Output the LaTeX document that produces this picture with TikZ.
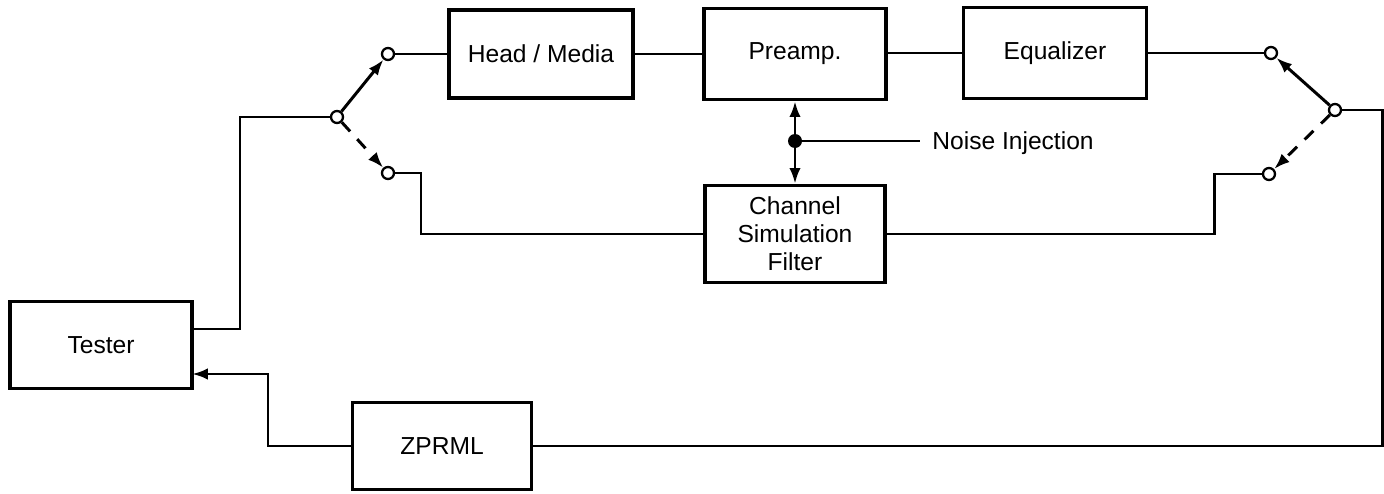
\documentclass[tikz,border=0pt]{standalone}
\usepackage{fontspec}
\setmainfont{Liberation Sans}
\usetikzlibrary{arrows.meta}
\begin{document}
\begin{tikzpicture}[x=0.02cm,y=-0.02cm,
  every node/.style={font=\fontsize{14}{16}\selectfont},
  blk/.style={draw,line width=1.9pt,inner sep=0pt,align=center},
  term/.style={draw,circle,fill=white,line width=1.3pt,minimum size=0.24cm,inner sep=0pt},
  wire/.style={line width=1.7pt},
  arr/.style={line width=1.7pt,-{Latex[length=9pt,width=6.5pt]}},
  dsh/.style={arr,dash pattern=on 7pt off 6pt}]
\useasboundingbox (0,0) rectangle (1384,494);
% blocks
\node[blk,minimum width=3.68cm,minimum height=1.76cm] (hm) at (541,54) {Head / Media};
\node[blk,minimum width=3.64cm,minimum height=1.82cm] (pre) at (795,54) {Preamp.};
\node[blk,minimum width=3.66cm,minimum height=1.82cm] (eq) at (1055,53) {Equalizer};
\node[blk,minimum width=3.6cm,minimum height=1.94cm] (csf) at (795,234) {Channel\\Simulation\\Filter};
\node[blk,minimum width=3.64cm,minimum height=1.74cm] (tes) at (101,345) {Tester};
\node[blk,minimum width=3.58cm,minimum height=1.74cm] (zp) at (442,446) {ZPRML};
% switch terminals
\node[term] (l0) at (337,117) {};
\node[term] (lt) at (388,54) {};
\node[term] (lb) at (388,173) {};
\node[term] (r0) at (1335,110) {};
\node[term] (rt) at (1271,53) {};
\node[term] (rb) at (1269,174) {};
% noise injection
\node[circle,fill=black,minimum size=0.28cm,inner sep=0pt] (nd) at (795,141) {};
\coordinate (ne) at (920,141);
\node[anchor=west,inner sep=0pt] (nt) at (932,143) {Noise Injection};
% corner coordinates
\coordinate (c1) at (240,117);
\coordinate (c2) at (240,329);
\coordinate (c3) at (421,173);
\coordinate (c4) at (421,234);
\coordinate (c5) at (1214,174);
\coordinate (c6) at (1214,234);
\coordinate (c7) at (1382,110);
\coordinate (c8) at (1382,446);
\coordinate (c9) at (268,446);
\coordinate (c10) at (268,374);
\coordinate (c11) at (192,374);
% wires
\draw[wire] (lt) -- (hm.west|-lt);
\draw[wire] (hm) -- (pre);
\draw[wire] (pre.east|-eq) -- (eq);
\draw[wire] (eq.east) -- (rt);
\draw[wire] (l0) -- (c1) -- (c2) -- (tes.east|-c2);
\draw[wire] (lb) -- (c3) -- (c4) -- (csf.west|-c4);
\draw[wire] (rb) -- (c5) -- (c6) -- (csf.east|-c6);
\draw[wire] (r0) -- (c7) -- (c8) -- (zp.east|-c8);
\draw[arr] (zp.west|-c9) -- (c9) -- (c10) -- (c11);
% switch arms
\draw[arr] (l0) -- (lt);
\draw[dsh] (l0) -- (lb);
\draw[arr] (r0) -- (rt);
\draw[dsh] (r0) -- (rb);
% noise
\draw[arr] (nd.center) -- (pre.south);
\draw[arr] (nd.center) -- (csf.north);
\draw[wire] (nd.center) -- (ne);
\end{tikzpicture}
\end{document}
